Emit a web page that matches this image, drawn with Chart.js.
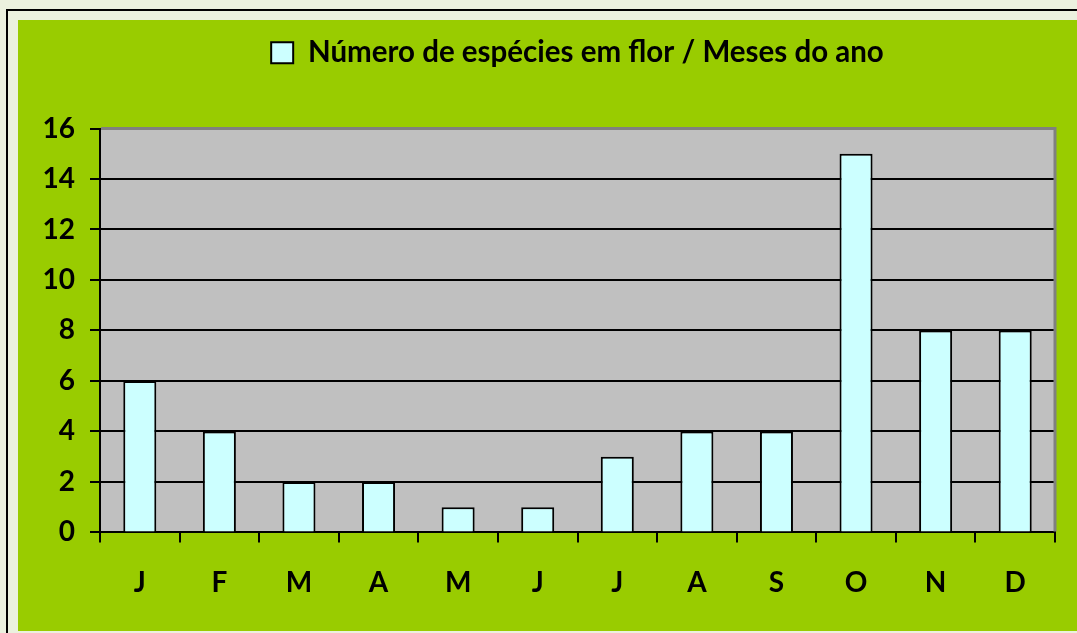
<!DOCTYPE html>
<html>
<head>
<meta charset="utf-8">
<script src="https://cdn.jsdelivr.net/npm/chart.js@4/dist/chart.umd.min.js"></script>
<style>
  html, body { margin: 0; padding: 0; background: #EBF1DE; overflow: hidden; }
  #c { display: block; }
</style>
</head>
<body>
<canvas id="c" width="1077" height="633"></canvas>
<script>
// ---- data ----
const months = ['J', 'F', 'M', 'A', 'M', 'J', 'J', 'A', 'S', 'O', 'N', 'D'];
const species = [6, 4, 2, 2, 1, 1, 3, 4, 4, 15, 8, 8];
const seriesLabel = 'Número de espécies em flor / Meses do ano';
const yMin = 0;
const yMax = 16;
const yStep = 2;

const FONT = { family: 'Lato', weight: 'bold', size: 28 };
const LEGEND_FONT = { family: 'Lato', weight: 'bold', size: 29.5 };

const framePlugin = {
  id: 'frame',
  beforeDraw(chart) {
    const ctx = chart.ctx;
    const a = chart.chartArea;
    ctx.save();
    ctx.fillStyle = '#EBF1DE';
    ctx.fillRect(0, 0, chart.width, chart.height);
    ctx.strokeStyle = '#000';
    ctx.lineWidth = 2;
    ctx.strokeRect(7, 10, 2000, 2000);
    ctx.fillStyle = '#99CC00';
    ctx.fillRect(18, 20, chart.width - 18, 631 - 20);
    ctx.fillStyle = '#C0C0C0';
    ctx.fillRect(a.left, a.top, a.right - a.left, a.bottom - a.top);
    ctx.restore();
    // centre legend over plot area
    const lg = chart.legend;
    if (lg) {
      lg.left = a.left;
      lg.right = a.right;
      lg.width = a.right - a.left;
      const h = lg.bottom - lg.top;
      lg.top = 28;
      lg.bottom = 28 + h;
    }
  },
  afterDatasetsDraw(chart) {
    const ctx = chart.ctx;
    const a = chart.chartArea;
    ctx.save();
    ctx.strokeStyle = '#808080';
    ctx.lineWidth = 3;
    ctx.beginPath();
    ctx.moveTo(a.left + 1, a.top);
    ctx.lineTo(a.right, a.top);
    ctx.lineTo(a.right, a.bottom - 1);
    ctx.stroke();
    ctx.restore();
  }
};

new Chart(document.getElementById('c'), {
  type: 'bar',
  data: {
    labels: months,
    datasets: [{
      label: seriesLabel,
      data: species,
      backgroundColor: '#CCFFFF',
      borderColor: '#000000',
      borderWidth: 2,
      categoryPercentage: 1,
      barPercentage: 0.415
    }]
  },
  options: {
    responsive: false,
    animation: false,
    layout: { padding: { left: 18, right: 22, top: 79, bottom: 9 } },
    plugins: {
      legend: {
        display: true,
        position: 'top',
        labels: {
          boxWidth: 22,
          boxHeight: 21,
          padding: 10,
          color: '#000',
          font: LEGEND_FONT
        }
      },
      tooltip: { enabled: false }
    },
    scales: {
      x: {
        grid: {
          offset: true,
          drawOnChartArea: false,
          drawTicks: true,
          tickLength: 10,
          color: '#000',
          lineWidth: 2
        },
        border: { color: '#000', width: 2 },
        ticks: { color: '#000', font: FONT, padding: 24, maxRotation: 0, autoSkip: false }
      },
      y: {
        min: yMin,
        max: yMax,
        ticks: { stepSize: yStep, color: '#000', font: FONT, padding: 15 },
        grid: { color: '#000', lineWidth: 2, tickLength: 10, drawTicks: true },
        border: { color: '#000', width: 2 },
        afterFit(scale) { scale.width = 82; }
      }
    }
  },
  plugins: [framePlugin]
});
</script>
</body>
</html>
